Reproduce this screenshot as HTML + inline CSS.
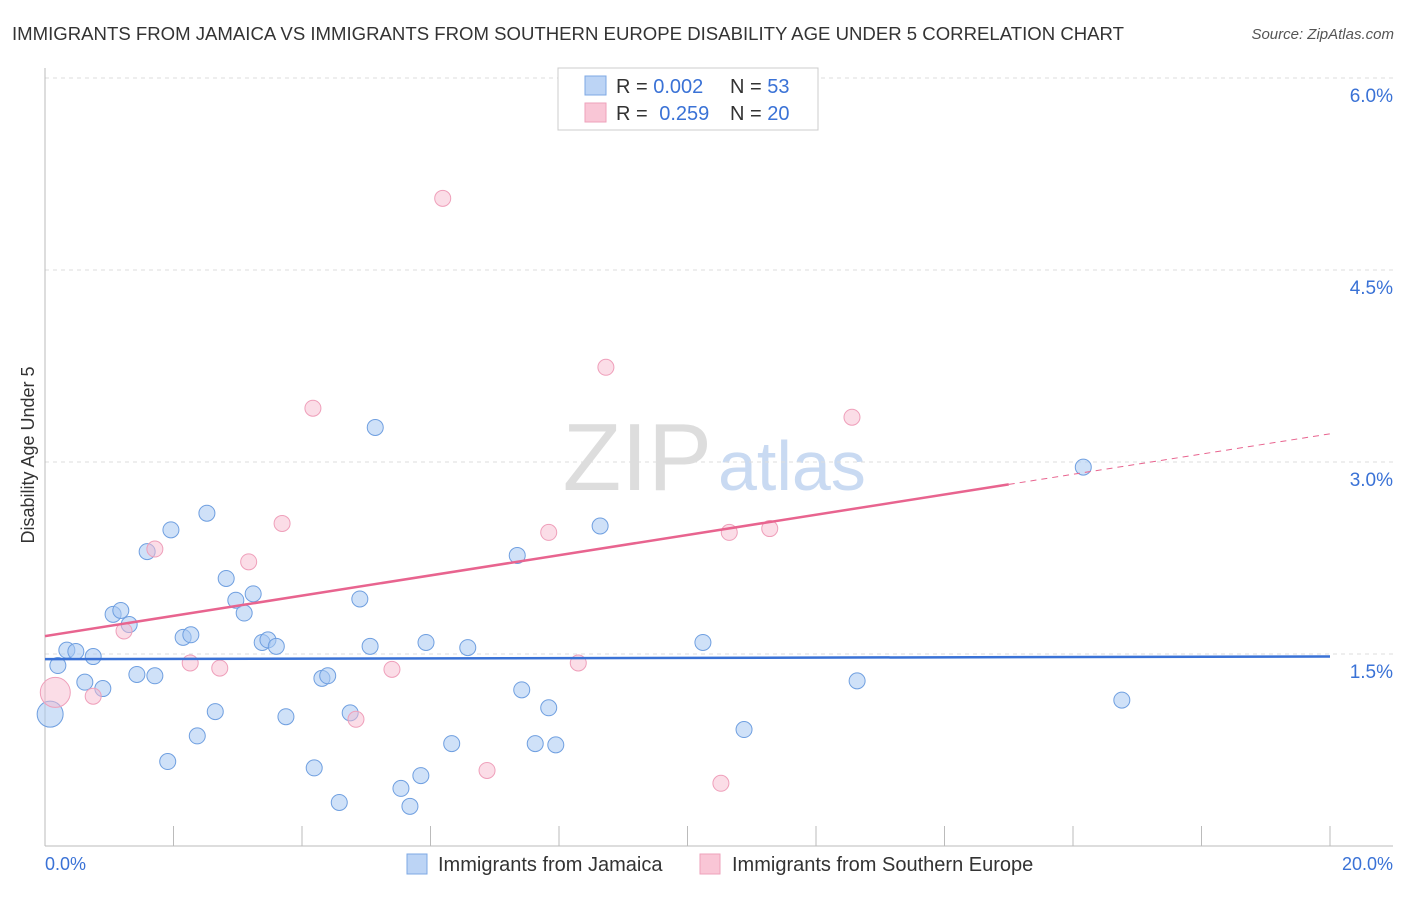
<!DOCTYPE html>
<html><head><meta charset="utf-8"><style>
body{margin:0;background:#fff;font-family:"Liberation Sans",sans-serif;}
svg text{font-family:"Liberation Sans",sans-serif;}
</style></head><body>
<svg id="chart" width="1406" height="892">
<text x="12" y="40" font-size="18" fill="#333" textLength="1112" lengthAdjust="spacingAndGlyphs">IMMIGRANTS FROM JAMAICA VS IMMIGRANTS FROM SOUTHERN EUROPE DISABILITY AGE UNDER 5 CORRELATION CHART</text>
<text x="1394" y="39" font-size="15" fill="#555" font-style="italic" text-anchor="end">Source: ZipAtlas.com</text>
<text x="34" y="455" font-size="18" fill="#333" text-anchor="middle" transform="rotate(-90 34 455)">Disability Age Under 5</text>
<text x="712" y="490" font-size="96" fill="#ddd" text-anchor="end" font-family="Liberation Serif">ZIP</text>
<text x="718" y="490" font-size="70" fill="#c9daf2">atlas</text>
<g id="grid"></g><g id="marks"></g>
<g>
<rect x="558" y="68" width="260" height="62" fill="#fff" stroke="#ccc"/>
<rect x="585" y="76" width="21" height="19" fill="#bcd4f5" stroke="#7ea8e4"/>
<rect x="585" y="103" width="21" height="19" fill="#f9c6d6" stroke="#eea2bb"/>
<text x="616" y="93" font-size="20" fill="#333">R = <tspan fill="#3a72d6">0.002</tspan></text>
<text x="730" y="93" font-size="20" fill="#333">N = <tspan fill="#3a72d6">53</tspan></text>
<text x="616" y="120" font-size="20" fill="#333">R = <tspan fill="#3a72d6" dx="6">0.259</tspan></text>
<text x="730" y="120" font-size="20" fill="#333">N = <tspan fill="#3a72d6">20</tspan></text>
</g>
<g>
<rect x="407" y="854" width="20" height="20" fill="#bcd4f5" stroke="#7ea8e4"/>
<text x="438" y="871" font-size="20" fill="#333">Immigrants from Jamaica</text>
<rect x="700" y="854" width="20" height="20" fill="#f9c6d6" stroke="#eea2bb"/>
<text x="732" y="871" font-size="20" fill="#333">Immigrants from Southern Europe</text>
</g>
<text x="45" y="870" font-size="18" fill="#3a72d6">0.0%</text>
<text x="1393" y="870" font-size="18" fill="#3a72d6" text-anchor="end">20.0%</text>
</svg>
<script>
const yTicks=[1.5,3.0,4.5,6.0];
const yTickLabels=["1.5%","3.0%","4.5%","6.0%"];
const blueX=[0.08,0.20,0.34,0.48,0.62,0.75,0.90,1.06,1.18,1.31,1.43,1.59,1.71,1.91,1.96,2.15,2.27,2.37,2.52,2.65,2.82,2.97,3.10,3.24,3.38,3.47,3.60,3.75,4.19,4.31,4.40,4.58,4.75,4.90,5.06,5.14,5.54,5.68,5.85,5.93,6.33,6.58,7.35,7.42,7.63,7.84,7.95,8.64,10.24,10.88,12.64,16.16,16.76];
const blueY=[1.03,1.41,1.53,1.52,1.28,1.48,1.23,1.81,1.84,1.73,1.34,2.30,1.33,0.66,2.47,1.63,1.65,0.86,2.60,1.05,2.09,1.92,1.82,1.97,1.59,1.61,1.56,1.01,0.61,1.31,1.33,0.34,1.04,1.93,1.56,3.27,0.45,0.31,0.55,1.59,0.80,1.55,2.27,1.22,0.80,1.08,0.79,2.50,1.59,0.91,1.29,2.96,1.14];
const pinkX=[0.16,0.75,1.23,1.71,2.26,2.72,3.17,3.69,4.17,4.84,5.40,6.19,6.88,7.84,8.30,8.73,10.52,10.65,11.28,12.56];
const pinkY=[1.20,1.17,1.68,2.32,1.43,1.39,2.22,2.52,3.42,0.99,1.38,5.06,0.59,2.45,1.43,3.74,0.49,2.45,2.48,3.35];
const blueTrend=[1.46,1.48];
const pinkTrend=[1.64,3.22];
const pinkSolidEnd=15.0;
const X=v=>45+v/20*1285, Y=v=>846-v/1.5*192;
const NS="http://www.w3.org/2000/svg";
const grid=document.getElementById('grid'), marks=document.getElementById('marks');
function mk(tag,attrs,parent){const e=document.createElementNS(NS,tag);for(const k in attrs)e.setAttribute(k,attrs[k]);parent.appendChild(e);return e;}
yTicks.forEach((t,i)=>{
 const l=mk('line',{x1:45,x2:1393,y1:Y(t),y2:Y(t),stroke:'#ddd','stroke-dasharray':'4,4'},grid);
 
 
 const tx=mk('text',{x:1393,y:Y(t)+24,'font-size':19,fill:'#3a72d6','text-anchor':'end'},grid);
 tx.textContent=yTickLabels[i];
 
 
});
const ax=mk('line',{x1:45,x2:1393,y1:846,y2:846,stroke:'#bbb'},grid);


const ay=mk('line',{x1:45,x2:45,y1:68,y2:846,stroke:'#bbb'},grid);


for(let i=0;i<=10;i++){
 const tk=mk('line',{x1:X(i*2),x2:X(i*2),y1:826,y2:846,stroke:'#bbb'},grid);
 
 
}
blueX.forEach((x,i)=>{
 const c=mk('circle',{cx:X(x),cy:Y(blueY[i]),r:i===0?13:8,fill:'rgba(168,200,242,0.55)',stroke:'#6f9fe0','stroke-width':1},marks);
 
 
});
pinkX.forEach((x,i)=>{
 const c=mk('circle',{cx:X(x),cy:Y(pinkY[i]),r:i===0?15:8,fill:'rgba(248,188,208,0.5)',stroke:'#ef9fba','stroke-width':1},marks);
 
 
});
const bl=mk('line',{x1:X(0),x2:X(20),y1:Y(blueTrend[0]),y2:Y(blueTrend[1]),stroke:'#3a72d6','stroke-width':2.5},marks);


const py=x=>pinkTrend[0]+(pinkTrend[1]-pinkTrend[0])*x/20;
const pl=mk('line',{x1:X(0),x2:X(pinkSolidEnd),y1:Y(py(0)),y2:Y(py(pinkSolidEnd)),stroke:'#e8648f','stroke-width':2.5},marks);


const pd=mk('line',{x1:X(pinkSolidEnd),x2:X(20),y1:Y(py(pinkSolidEnd)),y2:Y(py(20)),stroke:'#e8648f','stroke-width':1,'stroke-dasharray':'6,5'},marks);


</script>
</body></html>
